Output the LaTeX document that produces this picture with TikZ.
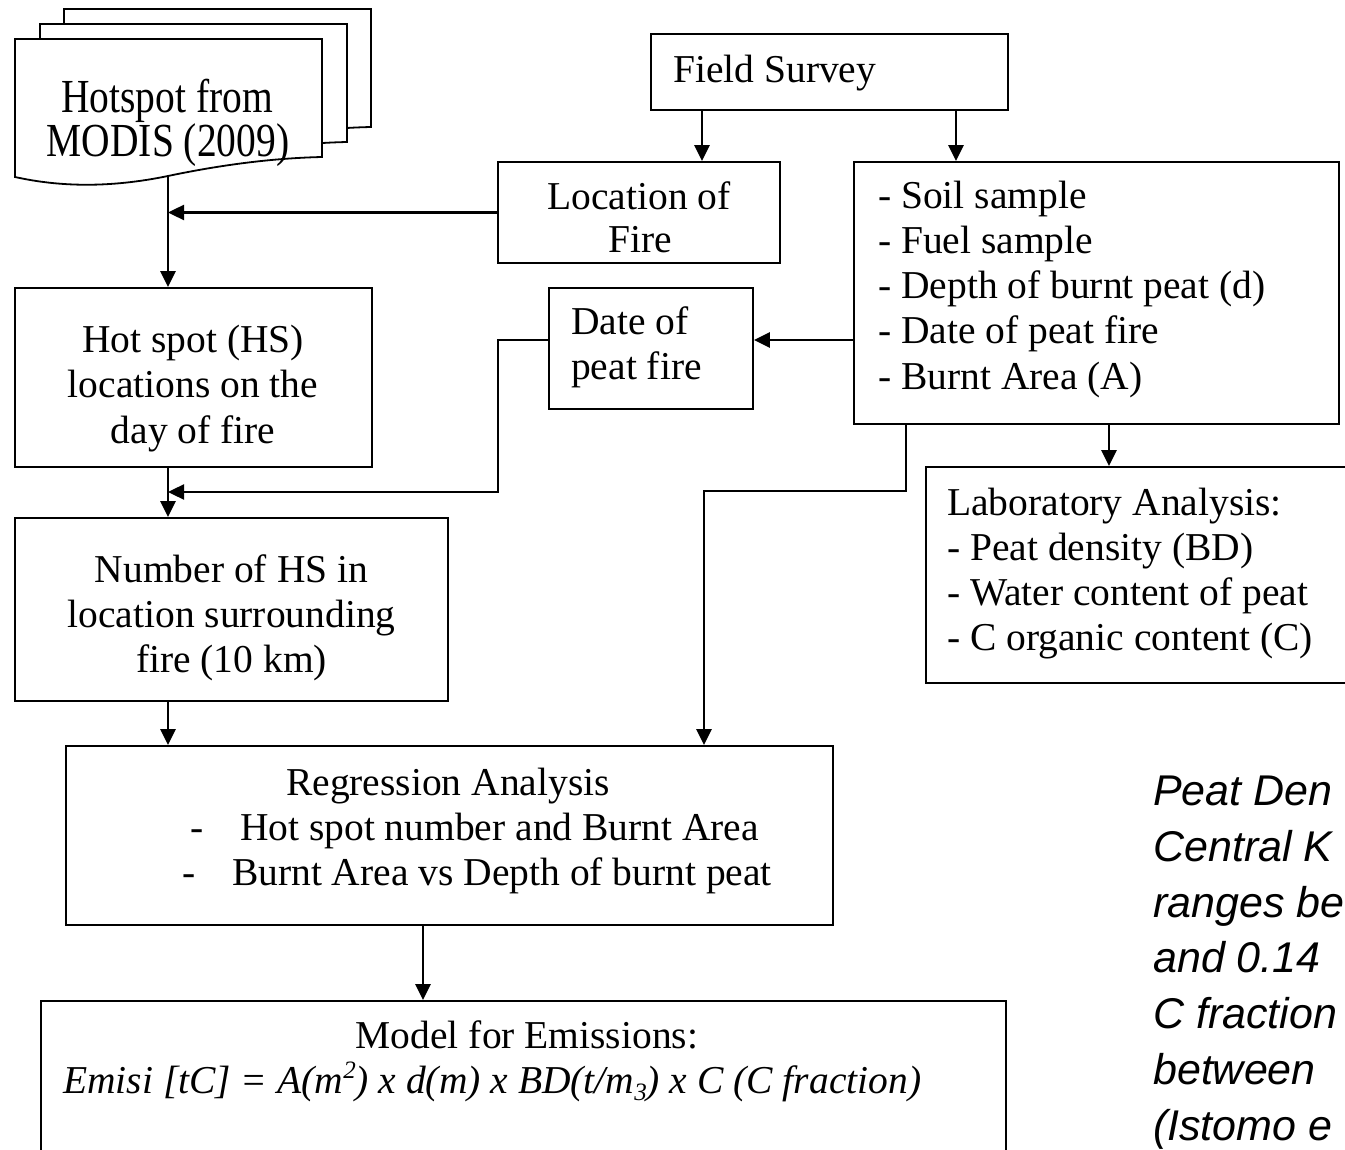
\documentclass[tikz,border=0pt]{standalone}
\usepackage{fontspec}
\setmainfont{Liberation Serif}
\newfontfamily\arialfont{Liberation Sans}
\usetikzlibrary{arrows.meta}
\newcommand\bodyfont{\fontsize{39.5}{45.3}\selectfont}
\newcommand\supx[1]{\raisebox{15pt}{\fontsize{25}{25}\selectfont #1}}
\newcommand\subx[1]{\raisebox{-7pt}{\fontsize{25}{25}\selectfont #1}}
\begin{document}
\begin{tikzpicture}[x=1pt,y=-1pt,
  box/.style={draw, line width=1.8pt, inner sep=0pt, fill=white},
  txt/.style={inner sep=0pt, font=\bodyfont, anchor=base},
  txtl/.style={inner sep=0pt, font=\bodyfont, anchor=base west},
  side/.style={inner sep=0pt, font=\arialfont\itshape\fontsize{43}{56}\selectfont, anchor=base west},
  conn/.style={line width=2.4pt, -{Triangle[length=16pt,width=15pt]}},
  page/.style={draw, line width=1.8pt, fill=white, line join=miter}]
\path[use as bounding box, fill=white] (0,0) rectangle (1345,1150);
\clip (0,0) rectangle (1345,1150);

% multi-document (stack of pages)
\foreach \dx/\dy in {49/-30, 25/-15, 0/0} {
  \path[page, shift={(\dx,\dy)}] (15,39) -- (322,39) -- (322,157)
    .. controls (280,158) and (230,163) .. (168,176)
    .. controls (110,188) and (60,187) .. (15,177) -- cycle;
}
\node[txt] (modis1) at (167,113) {\scalebox{1}[1.2]{Hotspot from}};
\node[txt] (modis2) at (168,157) {\scalebox{1}[1.2]{MODIS (2009)}};
\coordinate (mb) at (168,177);

% boxes
\node[box, minimum width=357pt, minimum height=76pt]  (fs)    at (829.5,72) {};
\node[box, minimum width=282pt, minimum height=101pt] (loc)   at (639,212.5) {};
\node[box, minimum width=204pt, minimum height=121pt] (date)  at (651,348.5) {};
\node[box, minimum width=485pt, minimum height=262pt] (list)  at (1096.5,293) {};
\node[box, minimum width=444pt, minimum height=216pt] (lab)   at (1148,575) {};
\node[box, minimum width=357pt, minimum height=179pt] (hs)    at (193.5,377.5) {};
\node[box, minimum width=433pt, minimum height=183pt] (num)   at (231.5,609.5) {};
\node[box, minimum width=767pt, minimum height=179pt] (reg)   at (449.5,835.5) {};
\node[box, minimum width=965pt, minimum height=209pt] (model) at (523.5,1105.5) {};

% texts
\node[txtl] (fst) at (673,83) {Field Survey};
\node[txt] (loct1) at (639,210) {Location of};
\node[txt] (loct2) at (640,253) {Fire};
\node[txtl] (datet1) at (571,335) {Date of};
\node[txtl] (datet2) at (571,380) {peat fire};
\node[txtl] (listt1) at (878,209) {- Soil sample};
\node[txtl] (listt2) at (878,254) {- Fuel sample};
\node[txtl] (listt3) at (878,299) {- Depth of burnt peat (d)};
\node[txtl] (listt4) at (878,344) {- Date of peat fire};
\node[txtl] (listt5) at (878,390) {- Burnt Area (A)};
\node[txtl] (labt1) at (947,515) {Laboratory Analysis:};
\node[txtl] (labt2) at (947,560) {- Peat density (BD)};
\node[txtl] (labt3) at (947,605) {- Water content of peat};
\node[txtl] (labt4) at (947,650) {- C organic content (C)};
\node[txt] (hst1) at (193,353) {Hot spot (HS)};
\node[txt] (hst2) at (193,398) {locations on the};
\node[txt] (hst3) at (193,443) {day of fire};
\node[txt] (numt1) at (231.5,582) {Number of HS in};
\node[txt] (numt2) at (231.5,627) {location surrounding};
\node[txt] (numt3) at (231.5,672) {fire (10 km)};
\node[txt] (regt1) at (448,795) {Regression Analysis};
\node[txtl] (regt2) at (190,840) {-\hspace{36.8pt}Hot spot number and Burnt Area};
\node[txtl] (regt3) at (182,885) {-\hspace{36.8pt}Burnt Area vs Depth of burnt peat};
\node[txt] (modelt1) at (527,1048) {Model for Emissions:};
\node[txtl] (modelt2) at (63,1093) {\itshape Emisi [tC] = A(m\supx{2}) x d(m) x BD(t/m\subx{3}) x C (C fraction)};

% side note (cut off at the right edge)
\node[side] (side1) at (1153,805) {Peat Den};
\node[side] (side2) at (1153,861) {Central K};
\node[side] (side3) at (1153,917) {ranges be};
\node[side] (side4) at (1153,972) {and 0.14};
\node[side] (side5) at (1153,1028) {C fraction};
\node[side] (side6) at (1153,1084) {between};
\node[side] (side7) at (1153,1140) {(Istomo e};

% connectors
\draw[conn] (mb) -- (mb |- hs.north);
\draw[conn] (loc.west) -- (mb |- loc.west);
\draw[conn] (fs.south -| 702,0) -- (loc.north -| 702,0);
\draw[conn] (fs.south -| 956,0) -- (list.north -| 956,0);
\draw[conn] (list.west |- 0,340) -- (date.east |- 0,340);
\draw[conn] (date.west |- 0,340) -- (498,340) -- (498,492) -- (mb |- 0,492);
\draw[conn] (hs.south -| mb) -- (num.north -| mb);
\draw[conn] (list.south -| 1109,0) -- (lab.north -| 1109,0);
\draw[conn] (list.south -| 906,0) -- (906,491) -- (704,491) -- (reg.north -| 704,0);
\draw[conn] (num.south -| mb) -- (reg.north -| mb);
\draw[conn] (reg.south -| 423,0) -- (model.north -| 423,0);
\end{tikzpicture}
\end{document}
